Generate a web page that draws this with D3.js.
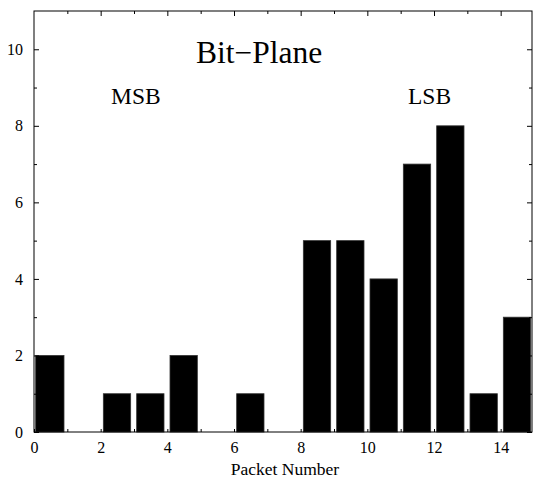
<!DOCTYPE html>
<html>
<head>
<meta charset="utf-8">
<script src="https://cdn.jsdelivr.net/npm/d3@7"></script>
<style>
  body { margin: 0; background: #fff; }
  text { font-family: "Liberation Serif", "Times New Roman", serif; fill: #000; }
</style>
</head>
<body>
<div id="chart"></div>
<script>
// packets counted per bit-plane
const packets = [0, 1, 2, 3, 4, 5, 6, 7, 8, 9, 10, 11, 12, 13, 14];
const counts  = [2, 0, 1, 1, 2, 0, 1, 0, 5, 5, 4, 7, 8, 1, 3];
const xMajor = [0, 2, 4, 6, 8, 10, 12, 14];
const xMinor = [1, 3, 5, 7, 9, 11, 13];
const yMajor = [0, 2, 4, 6, 8, 10];
const yMinor = [1, 3, 5, 7, 9];

const width = 534, height = 478;
// plot frame edges (px)
const plotL = 34, plotR = 532, plotT = 11, plotB = 432;

let svg = d3.select("#chart").append("svg")
    .attr("width", width)
    .attr("height", height);

let x = d3.scaleLinear().domain([0, 15]).range([plotL, 534]);
let y = d3.scaleLinear().domain([0, 11]).range([plotB, plotT]);

// bars (zero counts end up as a flat line on the baseline)
const barStart = d => d + (d === 0 ? 0.05 : 0.08);
svg.selectAll("rect.bar")
    .data(packets)
    .enter().append("rect")
    .attr("class", "bar")
    .attr("x", d => x(barStart(d)))
    .attr("width", d => x(d + 0.9) - x(barStart(d)))
    .attr("y", d => counts[d] > 0 ? y(counts[d]) : plotB - 1)
    .attr("height", d => counts[d] > 0 ? plotB - y(counts[d]) : 0)
    .attr("fill", "#000")
    .attr("stroke", "#333")
    .attr("stroke-width", 0.8);

// frame
svg.append("rect")
    .attr("x", plotL).attr("y", plotT)
    .attr("width", plotR - plotL).attr("height", plotB - plotT)
    .attr("fill", "none")
    .attr("stroke", "#000")
    .attr("stroke-width", 1);

function tidy(g) {
    g.select(".domain").remove();
    g.selectAll("line").attr("stroke", "#000");
    g.selectAll("text")
        .style("font-family", "'Liberation Serif', 'Times New Roman', serif")
        .style("font-size", "16px");
}

// left axis, ticks pointing in
svg.append("g").attr("transform", `translate(${plotL},0)`)
    .call(d3.axisLeft(y).tickValues(yMajor).tickSize(-5).tickPadding(11).tickFormat(d3.format("d")))
    .call(tidy);
svg.append("g").attr("transform", `translate(${plotL},0)`)
    .call(d3.axisLeft(y).tickValues(yMinor).tickSize(-3).tickFormat(""))
    .call(tidy);

// right axis
svg.append("g").attr("transform", `translate(${plotR},0)`)
    .call(d3.axisRight(y).tickValues(yMajor).tickSize(-5).tickFormat(""))
    .call(tidy);
svg.append("g").attr("transform", `translate(${plotR},0)`)
    .call(d3.axisRight(y).tickValues(yMinor).tickSize(-3).tickFormat(""))
    .call(tidy);

// bottom axis
svg.append("g").attr("transform", `translate(0,${plotB})`)
    .call(d3.axisBottom(x).tickValues(xMajor).tickSize(-3).tickPadding(10).tickFormat(d3.format("d")))
    .call(tidy);
svg.append("g").attr("transform", `translate(0,${plotB})`)
    .call(d3.axisBottom(x).tickValues(xMinor).tickSize(-3).tickFormat(""))
    .call(tidy);

// top axis
svg.append("g").attr("transform", `translate(0,${plotT})`)
    .call(d3.axisTop(x).tickValues(xMajor.filter(v => v > 0)).tickSize(-5).tickFormat(""))
    .call(tidy);
svg.append("g").attr("transform", `translate(0,${plotT})`)
    .call(d3.axisTop(x).tickValues(xMinor).tickSize(-3).tickFormat(""))
    .call(tidy);

// labels
svg.append("text")
    .attr("x", (plotL + plotR) / 2 + 2).attr("y", 475)
    .attr("text-anchor", "middle")
    .style("font-size", "17.5px")
    .text("Packet Number");

svg.append("text")
    .attr("x", 196).attr("y", 63)
    .style("font-size", "31.5px")
    .text("Bit\u2212Plane");

svg.append("text")
    .attr("x", 111).attr("y", 104)
    .style("font-size", "23.5px")
    .text("MSB");

svg.append("text")
    .attr("x", 408).attr("y", 104)
    .style("font-size", "23.5px")
    .text("LSB");
</script>
</body>
</html>
